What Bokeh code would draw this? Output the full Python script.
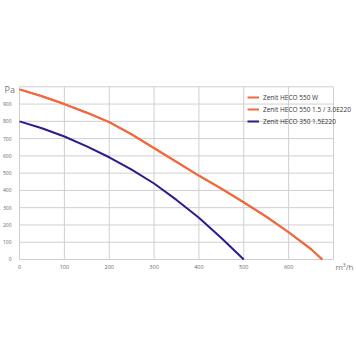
from bokeh.plotting import figure
from bokeh.models import Range1d, Legend, LegendItem
from bokeh.core.properties import value
from bokeh.embed import file_html
from bokeh.resources import INLINE

# Data
x_550 = [0, 50, 100, 150, 200, 250, 300, 350, 400, 450, 500, 550, 600, 650, 675]
y_550w = [985, 945, 900, 850, 795, 725, 645, 565, 485, 410, 331, 248, 158, 60, 0]
y_550e = [985, 945, 900, 850, 795, 725, 645, 565, 485, 410, 331, 248, 158, 60, 0]
x_350 = [0, 50, 100, 150, 200, 250, 300, 350, 400, 450, 500]
y_350 = [800, 760, 712, 655, 592, 520, 440, 345, 242, 125, 0]

series_names = ["Zenit HECO 550 W", "Zenit HECO 550 1.5 / 3.0E220", "Zenit HECO 350 1.5E220"]
x_ticks = [0, 100, 200, 300, 400, 500, 600, 700]
y_ticks = [0, 100, 200, 300, 400, 500, 600, 700, 800, 900, 1000]
x_labels = ["0", "100", "200", "300", "400", "500", "600"]
y_labels = ["0", "100", "200", "300", "400", "500", "600", "700", "800", "900"]
x_unit = "m³/h"
y_unit = "Pa"

ORANGE = "#f4683c"
BLUE = "#2b1c8e"
GRID = "#cfcfcf"
TICK = "#666666"

# Canvas mapped so that data (0..700, 0..1000) sits at px x 19..333, y 259..86
XMIN, XMAX = -42.4, 751.3
YMIN, YMAX = -561.7, 1499.7
x_max = x_ticks[-1]
y_max = y_ticks[-1]

p = figure(width=356, height=356, output_backend="svg", toolbar_location=None,
           x_range=Range1d(XMIN, XMAX), y_range=Range1d(YMIN, YMAX),
           min_border=0)
p.axis.visible = False
p.grid.visible = False
p.outline_line_color = None
p.background_fill_color = "white"
p.border_fill_color = "white"

# grid lines, limited to the data area
p.segment(x0=x_ticks, y0=[0] * len(x_ticks), x1=x_ticks, y1=[y_max] * len(x_ticks),
          line_color=GRID, line_width=1)
p.segment(x0=[0] * len(y_ticks), y0=y_ticks, x1=[x_max] * len(y_ticks), y1=y_ticks,
          line_color=GRID, line_width=1)

# tick labels
p.text(x=x_ticks[:len(x_labels)], y=[-46] * len(x_labels), text=x_labels,
       text_font=value("Open Sans"), text_font_size="5.5px", text_color=TICK,
       text_align="center", text_baseline="middle")
p.text(x=[-17.8] * len(y_labels), y=y_ticks[:len(y_labels)], text=y_labels,
       text_font=value("Open Sans"), text_font_size="5px", text_color=TICK,
       text_align="right", text_baseline="middle")
p.text(x=[-33.4], y=[984], text=[y_unit], text_font=value("Open Sans"),
       text_font_size="9px", text_color="#777777", text_align="left", text_baseline="middle")
p.text(x=[704.4], y=[-40.5], text=[x_unit], text_font=value("Open Sans"),
       text_font_size="8px", text_color="#777777", text_align="left", text_baseline="middle")

r1 = p.line(x_550, y_550w, line_color=ORANGE, line_width=2)
r2 = p.line(x_550, y_550e, line_color=ORANGE, line_width=2)
r3 = p.line(x_350, y_350, line_color=BLUE, line_width=2)

legend = Legend(items=[LegendItem(label=series_names[0], renderers=[r1]),
                       LegendItem(label=series_names[1], renderers=[r2]),
                       LegendItem(label=series_names[2], renderers=[r3])],
                location=(247, 230), orientation="vertical")
legend.background_fill_alpha = 0
legend.border_line_color = None
legend.padding = 0
legend.margin = 0
legend.spacing = 2
legend.glyph_width = 12
legend.glyph_height = 10
legend.label_height = 10
legend.label_standoff = 4
legend.label_text_font = "Open Sans"
legend.label_text_font_size = "6.5px"
legend.label_text_color = "#333333"
p.add_layout(legend, "center")

open("out.html", "w").write(file_html(p, INLINE))
